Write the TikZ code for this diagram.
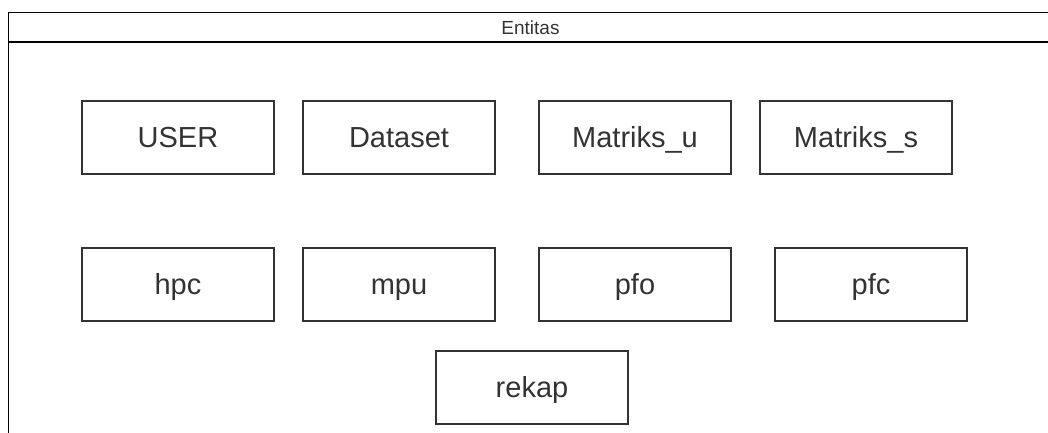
\documentclass[tikz,border=0pt]{standalone}
\usepackage{fontspec}
\setmainfont{Liberation Sans}
\usetikzlibrary{positioning}
\definecolor{linegray}{HTML}{333333}
\tikzstyle{entbox} = [draw=linegray, line width=1.3pt, rectangle,
    minimum width=192pt, minimum height=73pt, inner sep=0pt, outer sep=0pt,
    text height=27pt, text depth=6.2pt,
    text=linegray, font=\fontsize{29}{32}\selectfont]
\tikzstyle{framebox} = [draw=black, line width=1.3pt, rectangle,
    minimum width=1044pt, inner sep=0pt, outer sep=0pt]
\tikzstyle{frametitle} = [text=linegray, font=\fontsize{19}{21}\selectfont]
\begin{document}
\begin{tikzpicture}[x=1pt,y=-1pt]
\useasboundingbox (0,0) rectangle (1048,432);
\clip (0,0) rectangle (1048,432);

\node [framebox, anchor=north west, minimum height=440pt] (frame) at (8.5,12.5) {};
\node [framebox, frametitle, anchor=north west, minimum height=29.5pt] (title) at (frame.north west) {Entitas};

\node [entbox, anchor=north west] (user) at (82,101) {USER};
\node [entbox, right=29pt of user] (dataset) {Dataset};
\node [entbox, right=44pt of dataset] (matriksu) {Matriks\_u};
\node [entbox, right=29pt of matriksu] (matrikss) {Matriks\_s};

\node [entbox, below=74pt of user] (hpc) {hpc};
\node [entbox, below=74pt of dataset] (mpu) {mpu};
\node [entbox, below=74pt of matriksu] (pfo) {pfo};
\node [entbox, right=44pt of pfo] (pfc) {pfc};

\node [entbox, anchor=north west] (rekap) at (436,351) {rekap};

\end{tikzpicture}
\end{document}
